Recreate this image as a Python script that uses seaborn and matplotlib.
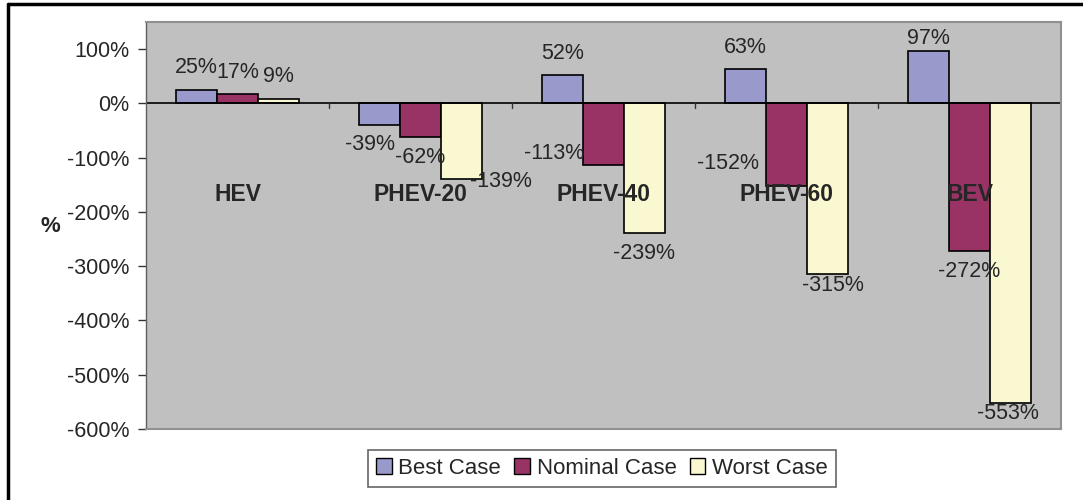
import numpy as np
import pandas as pd
import matplotlib
matplotlib.use("Agg")
import matplotlib.pyplot as plt
from matplotlib.lines import Line2D
from matplotlib.patches import Patch
import seaborn as sns

# data (percent)
categories = ["HEV", "PHEV-20", "PHEV-40", "PHEV-60", "BEV"]
series = ["Best Case", "Nominal Case", "Worst Case"]
best_case = [25, -39, 52, 63, 97]
nominal_case = [17, -62, -113, -152, -272]
worst_case = [9, -139, -239, -315, -553]
y_ticks = [100, 0, -100, -200, -300, -400, -500, -600]

colors = ["#9999CC", "#993366", "#FAF8D0"]

df = pd.DataFrame({
    "category": categories * 3,
    "case": np.repeat(series, len(categories)),
    "value": best_case + nominal_case + worst_case,
})

sns.set_style("white")
plt.rcParams["font.family"] = ["Liberation Sans", "DejaVu Sans"]

fig = plt.figure(figsize=(10.83, 5.0), dpi=100)
ax = fig.add_axes([146 / 1083, 1 - 429 / 500, (1061 - 146) / 1083, (429 - 22) / 500])
ax.set_facecolor("#C0C0C0")

sns.barplot(data=df, x="category", y="value", hue="case", order=categories,
            hue_order=series, palette=colors, width=0.67, saturation=1,
            edgecolor="black", linewidth=1.2, legend=False, ax=ax)

ax.set_ylim(-600, 150)
ax.set_xlim(-0.5, len(categories) - 0.5)
ax.set_yticks(y_ticks)
ax.set_yticklabels([f"{t}%" for t in y_ticks], fontsize=15.5)
ax.tick_params(axis="y", direction="out", length=6, width=1, color="#333333", pad=6, left=True)
ax.set_xticks([])
ax.set_xlabel("")
ax.set_ylabel("")

# zero axis line with category divider ticks
ax.axhline(0, color="black", lw=1.2, zorder=1)
for b in np.arange(0.5, len(categories) - 0.5):
    ax.plot([b, b], [0, -9], color="#333333", lw=1, zorder=1, clip_on=False)

for s in ["top", "right", "bottom"]:
    ax.spines[s].set_color("#909090")
    ax.spines[s].set_linewidth(1.5)
ax.spines["left"].set_color("#606060")
ax.spines["left"].set_linewidth(1)

# data labels; a few were shifted in the original (pixel nudges)
nudges = {
    ("PHEV-20", "Best Case"): (-10, 0),
    ("PHEV-20", "Worst Case"): (40, 17),
    ("PHEV-40", "Nominal Case"): (-49, 31),
    ("PHEV-60", "Nominal Case"): (-59, 42),
    ("PHEV-60", "Worst Case"): (6, 9),
    ("BEV", "Best Case"): (0, -10),
    ("BEV", "Worst Case"): (-2, 10),
}
for case, cont in zip(series, ax.containers):
    for cat, bar in zip(categories, cont):
        h = bar.get_height()
        x = bar.get_x() + bar.get_width() / 2
        dx, dy = nudges.get((cat, case), (0, 0))
        off = 22 if h >= 0 else -20
        ax.annotate(f"{h:.0f}%", (x, h), xytext=(dx, off + dy),
                    textcoords="offset pixels", ha="center", va="center",
                    fontsize=15.5, zorder=5)

# category names drawn inside the plot, as in the reference
for i, cat in enumerate(categories):
    ax.text(i, -167, cat, ha="center", va="center", fontsize=16.5,
            fontweight="bold", zorder=6)

fig.text(50 / 1083, 1 - 227 / 500, "%", ha="center", va="center",
         fontsize=16, fontweight="bold")

handles = [Patch(facecolor=c, edgecolor="black", linewidth=1) for c in colors]
leg = fig.legend(handles, series, loc="center", bbox_to_anchor=(602 / 1083, 1 - 468.5 / 500),
                 ncol=3, fontsize=16, frameon=True, fancybox=False, shadow=False,
                 handlelength=0.7, handleheight=0.7, handletextpad=0.3,
                 columnspacing=0.6, borderpad=0.35)
leg.get_frame().set_edgecolor("#404040")
leg.get_frame().set_linewidth(1.2)

# outer chart border (left and top visible in the reference)
fig.add_artist(Line2D([8 / 1083, 8 / 1083], [0, 1 - 4 / 500], transform=fig.transFigure,
                      color="black", lw=2.5))
fig.add_artist(Line2D([8 / 1083, 1], [1 - 4 / 500, 1 - 4 / 500], transform=fig.transFigure,
                      color="black", lw=2.5))

fig.savefig("out.png", dpi=100)
